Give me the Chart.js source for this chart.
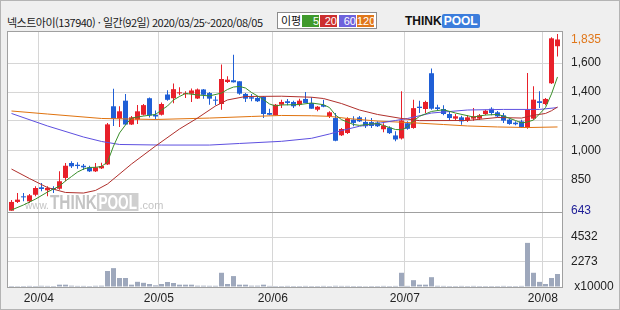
<!DOCTYPE html>
<html lang="ko">
<head>
<meta charset="UTF-8" />
<title>넥스트아이 일간 차트</title>
<script src="https://cdn.jsdelivr.net/npm/chart.js"></script>
<style>
  html, body { margin: 0; padding: 0; }
  body { width: 620px; height: 310px; overflow: hidden; background: #efefef; }
  #wrap { position: relative; width: 620px; height: 310px; background: #efefef; }
  #frame {
    position: absolute; left: 0; top: 0; width: 620px; height: 310px;
    box-sizing: border-box; border: 1px solid #b4b4b4; pointer-events: none;
  }
  canvas { position: absolute; left: 0; }
  #priceChart { top: 0; }
  #volumeChart { top: 212px; }

  #title {
    position: absolute; left: 7px; top: 15px;
    font: 11px "Noto Sans CJK KR", sans-serif; line-height: 14px;
    letter-spacing: -0.5px; color: #1a1a1a; white-space: nowrap;
  }
  #maLegend {
    position: absolute; left: 277px; top: 12px; width: 100px; height: 17px;
    box-sizing: border-box; border: 1px solid #8c8c8c; background: #fff;
    font: 11px "Noto Sans CJK KR", sans-serif;
  }
  #maLegend .lbl { position: absolute; left: 3px; top: 0; line-height: 15px; color: #111; }
  #maLegend .box {
    position: absolute; top: 2px; width: 17px; height: 12px;
    color: #fff; text-align: right; line-height: 12px; font-size: 11px;
    font-family: "Liberation Sans", Arial, sans-serif;
  }
  #logo {
    position: absolute; left: 405px; top: 14px; height: 14px;
    font: bold 12px "Liberation Sans", Arial, sans-serif; line-height: 14px;
    white-space: nowrap;
  }
  #logo .think { color: #111; }
  #logo .pool { color: #fff; background: #3c7ddc; padding: 0 2px; border-radius: 2px; }
</style>
</head>
<body>
<div id="wrap">
  <div id="title">넥스트아이(137940) · 일간(92일) 2020/03/25~2020/08/05</div>
  <div id="maLegend">
    <span class="lbl">이평</span>
    <span class="box" style="left:24px;background:#3f9a2c;">5</span>
    <span class="box" style="left:42px;background:#cc2f2f;">20</span>
    <span class="box" style="left:61px;background:#6e62dc;">60</span>
    <span class="box" style="left:79px;background:#e0771a;">120</span>
  </div>
  <div id="logo"><span class="think">THINK</span><span class="pool">POOL</span></div>

  <canvas id="priceChart" width="620" height="222"></canvas>
  <canvas id="volumeChart" width="620" height="98"></canvas>
  <div id="frame"></div>
</div>

<script>
  // month labels and the candle index of the first session of each month
  const monthLabels = ['20/04', '20/05', '20/06', '20/07', '20/08'];
  const monthStarts = [5, 25, 44, 66, 89];

  // daily OHLC, 2020/03/25 .. 2020/08/05 (92 sessions)
  const opens = [
    643, 704, 743, 708, 754, 806, 785, 801, 796, 871,
    975, 963, 956, 945, 917, 938, 965, 1370, 1284, 1409,
    1243, 1277, 1311, 1426, 1311, 1311, 1452, 1426, 1460, 1454,
    1457, 1424, 1487, 1462, 1416, 1386, 1539, 1551, 1544, 1456,
    1433, 1428, 1435, 1323, 1307, 1381, 1405, 1400, 1381, 1421,
    1393, 1346, 1379, 1300, 1288, 1168, 1184, 1277, 1293, 1261,
    1260, 1257, 1210, 1222, 1167, 1146, 1252, 1219, 1367, 1351,
    1600, 1363, 1351, 1316, 1284, 1293, 1274, 1284, 1284, 1316,
    1353, 1328, 1307, 1277, 1256, 1265, 1224, 1284, 1405, 1386,
    1530, 1788
  ];
  const highs = [
    717, 766, 766, 759, 813, 836, 813, 813, 917, 975,
    987, 980, 968, 956, 975, 977, 1254, 1492, 1370, 1455,
    1302, 1379, 1386, 1431, 1340, 1396, 1482, 1529, 1502, 1474,
    1494, 1494, 1490, 1469, 1439, 1660, 1579, 1729, 1544, 1462,
    1455, 1439, 1439, 1353, 1386, 1416, 1421, 1409, 1423, 1469,
    1433, 1372, 1416, 1335, 1323, 1219, 1293, 1300, 1302, 1293,
    1288, 1265, 1252, 1231, 1196, 1474, 1265, 1416, 1409, 1409,
    1633, 1381, 1377, 1335, 1316, 1304, 1307, 1358, 1316, 1346,
    1363, 1337, 1323, 1284, 1265, 1277, 1602, 1509, 1474, 1428,
    1850, 1873
  ];
  const lows = [
    643, 697, 708, 697, 743, 778, 743, 766, 789, 848,
    940, 935, 926, 912, 912, 933, 961, 1233, 1226, 1240,
    1240, 1247, 1306, 1292, 1278, 1306, 1408, 1391, 1447, 1428,
    1400, 1421, 1423, 1381, 1377, 1346, 1532, 1535, 1451, 1400,
    1405, 1400, 1288, 1307, 1306, 1358, 1377, 1358, 1370, 1393,
    1353, 1335, 1363, 1288, 1126, 1163, 1177, 1231, 1260, 1219,
    1219, 1226, 1189, 1177, 1126, 1139, 1207, 1214, 1323, 1323,
    1346, 1339, 1307, 1274, 1267, 1242, 1261, 1270, 1274, 1307,
    1307, 1292, 1254, 1242, 1238, 1219, 1214, 1277, 1358, 1377,
    1525, 1717
  ];
  const closes = [
    704, 720, 736, 750, 801, 794, 801, 789, 848, 956,
    952, 954, 945, 917, 945, 954, 1244, 1284, 1335, 1243,
    1293, 1335, 1378, 1306, 1299, 1386, 1415, 1489, 1466, 1460,
    1480, 1487, 1450, 1423, 1409, 1560, 1555, 1537, 1458, 1423,
    1423, 1405, 1316, 1311, 1381, 1400, 1393, 1370, 1409, 1393,
    1353, 1367, 1367, 1328, 1130, 1212, 1284, 1254, 1265, 1231,
    1233, 1231, 1236, 1183, 1139, 1271, 1213, 1357, 1358, 1400,
    1353, 1351, 1316, 1288, 1300, 1265, 1293, 1300, 1307, 1339,
    1323, 1300, 1270, 1247, 1245, 1224, 1346, 1416, 1393, 1421,
    1843, 1835
  ];

  // volume, in units of 10,000 shares
  const volumes = [
    90, 80, 90, 100, 90, 110, 100, 90, 210, 210,
    120, 100, 100, 90, 110, 120, 1450, 1710, 816, 816,
    210, 470, 380, 272, 150, 272, 453, 363, 210, 210,
    210, 120, 120, 110, 110, 1290, 272, 990, 210, 210,
    120, 120, 210, 100, 90, 90, 100, 90, 90, 100,
    90, 90, 100, 90, 110, 100, 100, 90, 90, 80,
    90, 90, 100, 90, 100, 1290, 100, 620, 210, 210,
    890, 110, 100, 90, 90, 100, 90, 100, 90, 90,
    90, 90, 100, 90, 90, 100, 4000, 1290, 465, 272,
    816, 1180
  ];

  // moving averages: [candle index, price]
  const ma5 = [
    [0, 648], [2, 683], [4, 724], [6, 773], [8, 815], [9, 850], [10, 881], [11, 912],
    [12, 933], [13, 944], [14, 945], [15, 951], [16, 982], [17, 1093], [18, 1184], [19, 1240],
    [20, 1288], [22, 1302], [24, 1313], [25, 1344], [26, 1372], [27, 1414], [28, 1438], [29, 1459],
    [31, 1449], [33, 1442], [35, 1462], [36, 1487], [37, 1504], [38, 1508], [39, 1497], [40, 1466],
    [41, 1442], [42, 1416], [43, 1386], [44, 1372], [45, 1379], [48, 1382], [50, 1393], [52, 1381],
    [53, 1361], [54, 1309], [55, 1277], [57, 1243], [58, 1237], [59, 1242], [61, 1250], [62, 1236],
    [64, 1208], [65, 1207], [66, 1226], [67, 1268], [68, 1300], [70, 1334], [72, 1346], [74, 1323],
    [77, 1295], [79, 1309], [81, 1313], [82, 1302], [84, 1271], [85, 1254], [86, 1261], [87, 1274],
    [88, 1316], [89, 1361], [90, 1456], [91, 1574]
  ];
  const ma20 = [
    [0, 933], [3, 867], [6, 804], [9, 770], [12, 766], [14, 784], [16, 829], [20, 968],
    [24, 1093], [28, 1212], [31, 1288], [34, 1372], [36, 1414], [39, 1438], [45, 1440], [50, 1433],
    [52, 1424], [55, 1389], [58, 1344], [61, 1313], [65, 1285], [68, 1270], [76, 1271], [81, 1292],
    [85, 1288], [87, 1307], [89, 1320], [90, 1339], [91, 1365]
  ];
  const ma60 = [
    [0, 1320], [6, 1233], [12, 1156], [15, 1125], [18, 1104], [25, 1100], [33, 1100], [38, 1111],
    [45, 1126], [50, 1147], [53, 1177], [55, 1201], [58, 1231], [61, 1250], [64, 1271], [66, 1285],
    [70, 1323], [76, 1344], [82, 1348], [88, 1348], [91, 1361]
  ];
  const ma120 = [
    [0, 1337], [6, 1316], [15, 1285], [24, 1278], [33, 1288], [40, 1299], [45, 1306], [50, 1304],
    [53, 1300], [56, 1285], [61, 1267], [66, 1257], [72, 1243], [76, 1233], [81, 1226], [86, 1222],
    [91, 1226]
  ];

  // price axis gridlines and their printed labels
  const priceGridValues = [1671, 1469, 1268, 1061, 857];
  const priceGridLabels = ['1,600', '1,400', '1,200', '1,000', '850'];
  // volume axis gridlines
  const volumeGridValues = [2273, 4532];
  const volumeUnitLabel = ' x10000';

  const UP = '#e8202a';
  const DOWN = '#1f5fd6';
  const GRID = '#d6d6d6';
  const FRAME = '#a0a0a0';
  const FONT = '"Liberation Sans", Arial, sans-serif';

  const lastClose = closes[closes.length - 1];
  const periodLow = Math.min(...lows);

  // 6px per session, chart area 556px wide
  const X_MIN = -0.75;
  const X_MAX = X_MIN + 556 / 6;
  const monthTicks = monthStarts.map(i => i - 0.45);

  const candleColors = closes.map((c, i) => c >= opens[i] ? UP : DOWN);

  const panelPlugin = {
    id: 'panel',
    beforeDraw(chart) {
      const { ctx, chartArea: a } = chart;
      ctx.save();
      ctx.fillStyle = '#ffffff';
      ctx.fillRect(a.left, a.top, a.right - a.left, a.bottom - a.top);
      ctx.restore();
    },
    afterDraw(chart) {
      const { ctx, chartArea: a } = chart;
      ctx.save();
      ctx.strokeStyle = FRAME;
      ctx.lineWidth = 1;
      ctx.strokeRect(a.left + 0.5, a.top + 0.5, a.right - a.left - 1, a.bottom - a.top);
      ctx.restore();
    }
  };

  const watermarkPlugin = {
    id: 'watermark',
    beforeDatasetsDraw(chart) {
      const { ctx, chartArea: a } = chart;
      let x = a.left + 18;
      const y = a.bottom - 3;
      ctx.save();
      ctx.textBaseline = 'alphabetic';
      ctx.fillStyle = '#c4c4c4';
      ctx.font = '10px ' + FONT;
      ctx.fillText('www.', x, y);
      x += ctx.measureText('www.').width + 1;

      ctx.font = 'bold 20px ' + FONT;
      const tw = ctx.measureText('THINK').width * 0.77;
      ctx.save();
      ctx.translate(x, y);
      ctx.scale(0.77, 1);
      ctx.fillText('THINK', 0, 0);
      ctx.restore();
      x += tw;

      const pw = ctx.measureText('POOL').width * 0.68;
      ctx.fillStyle = '#cfcfcf';
      ctx.fillRect(x, y - 16, pw + 3, 18);
      ctx.fillStyle = '#ffffff';
      ctx.save();
      ctx.translate(x + 1.5, y);
      ctx.scale(0.68, 1);
      ctx.fillText('POOL', 0, 0);
      ctx.restore();
      x += pw + 4;

      ctx.fillStyle = '#c4c4c4';
      ctx.font = '11px ' + FONT;
      ctx.fillText('.com', x, y);
      ctx.restore();
    }
  };

  function maLine(points, color) {
    return {
      type: 'line',
      data: points.map(([i, v]) => ({ x: i, y: v })),
      borderColor: color,
      borderWidth: 1,
      pointRadius: 0,
      tension: 0,
      fill: false
    };
  }

  function fixRightAxis(axis) {
    axis.width = 57;
    axis.paddingTop = 0;
    axis.paddingBottom = 0;
  }

  // price panel
  new Chart(document.getElementById('priceChart'), {
    type: 'bar',
    data: {
      datasets: [
        maLine(ma5, '#3a8f2a'),
        maLine(ma20, '#b0302c'),
        maLine(ma60, '#5e50e0'),
        maLine(ma120, '#e0730f'),
        {
          data: opens.map((o, i) => ({ x: i, y: [o, closes[i]] })),
          backgroundColor: candleColors,
          barThickness: 5,
          minBarLength: 1,
          grouped: false,
          inflateAmount: 0,
          borderWidth: 0
        },
        {
          data: lows.map((l, i) => ({ x: i, y: [l, highs[i]] })),
          backgroundColor: candleColors,
          barThickness: 1,
          grouped: false,
          inflateAmount: 0,
          borderWidth: 0
        }
      ]
    },
    options: {
      responsive: false,
      animation: false,
      layout: { padding: { left: 7, top: 31, right: 0, bottom: 10 } },
      plugins: { legend: { display: false }, tooltip: { enabled: false } },
      scales: {
        x: {
          type: 'linear',
          offset: false,
          min: X_MIN,
          max: X_MAX,
          afterBuildTicks: axis => { axis.ticks = monthTicks.map(v => ({ value: v })); },
          afterFit: axis => { axis.height = 0; axis.paddingLeft = 0; axis.paddingRight = 0; },
          ticks: { display: false },
          grid: { color: GRID, drawTicks: false, offset: false },
          border: { display: false }
        },
        y: {
          position: 'right',
          min: 634,
          max: 1894,
          afterBuildTicks: axis => {
            axis.ticks = [lastClose, ...priceGridValues, periodLow].map(v => ({ value: v }));
          },
          afterFit: fixRightAxis,
          ticks: {
            padding: 8,
            font: { family: FONT, size: 12 },
            color: ctx => {
              const v = ctx.tick && ctx.tick.value;
              if (v === lastClose) return '#e0771a';
              if (v === periodLow) return '#1c1c96';
              return '#222';
            },
            callback: value => {
              const k = priceGridValues.indexOf(value);
              if (k >= 0) return priceGridLabels[k];
              return value.toLocaleString('en-US');
            }
          },
          grid: {
            drawTicks: false,
            color: ctx => (ctx.tick && priceGridValues.includes(ctx.tick.value)) ? GRID : 'rgba(0,0,0,0)'
          },
          border: { display: false }
        }
      }
    },
    plugins: [panelPlugin, watermarkPlugin]
  });

  // volume panel
  new Chart(document.getElementById('volumeChart'), {
    type: 'bar',
    data: {
      datasets: [{
        data: volumes.map((v, i) => ({ x: i, y: v })),
        backgroundColor: '#9ea8bc',
        barThickness: 5,
        grouped: false,
        inflateAmount: 0,
        borderWidth: 0
      }]
    },
    options: {
      responsive: false,
      animation: false,
      layout: { padding: { left: 7, top: 0, right: 0, bottom: 0 } },
      plugins: { legend: { display: false }, tooltip: { enabled: false } },
      scales: {
        x: {
          type: 'linear',
          offset: false,
          min: X_MIN,
          max: X_MAX,
          afterBuildTicks: axis => { axis.ticks = monthTicks.map(v => ({ value: v })); },
          afterFit: axis => { axis.height = 23; axis.paddingLeft = 0; axis.paddingRight = 0; },
          ticks: {
            autoSkip: false,
            maxRotation: 0,
            padding: 4,
            font: { family: FONT, size: 12 },
            color: '#222',
            callback: (value, index) => monthLabels[index]
          },
          grid: { color: GRID, drawTicks: false, offset: false },
          border: { display: false }
        },
        y: {
          position: 'right',
          min: 0,
          max: 6800,
          afterBuildTicks: axis => {
            axis.ticks = [0, ...volumeGridValues].map(v => ({ value: v }));
          },
          afterFit: fixRightAxis,
          ticks: {
            padding: 8,
            font: { family: FONT, size: 12 },
            color: '#222',
            callback: value => value === 0 ? volumeUnitLabel : String(value)
          },
          grid: {
            drawTicks: false,
            color: ctx => (ctx.tick && volumeGridValues.includes(ctx.tick.value)) ? GRID : 'rgba(0,0,0,0)'
          },
          border: { display: false }
        }
      }
    },
    plugins: [panelPlugin]
  });
</script>
</body>
</html>
